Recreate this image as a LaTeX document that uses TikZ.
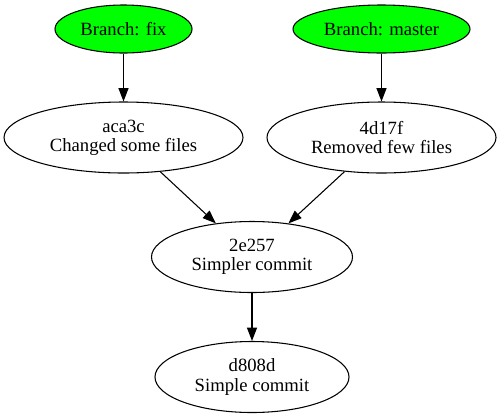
\documentclass[tikz,border=0pt]{standalone}
\usepackage{xcolor}
\usepackage{fontspec}
\setmainfont{Liberation Serif}
\usepackage{tikz}
\definecolor{branchgreen}{RGB}{0, 255, 0}
\usetikzlibrary{shapes.geometric,arrows.meta,positioning}

\begin{document}
\begin{tikzpicture}[
    x=0.75pt, y=-0.75pt,
    commit/.style={
        ellipse,
        draw,
        line width=0.8pt,
        inner sep=0pt,
        minimum height=53.25pt,
        align=center,
        font=\fontsize{14}{14.5}\selectfont
    },
    branch/.style={
        commit,
        fill=branchgreen,
        minimum height=36pt
    },
    arrow/.style={-{Triangle[length=10pt,width=7.5pt]},line width=0.8pt}
]
    \useasboundingbox (0,0) rectangle (500,419);

    % Branches
    \node[branch, minimum width=102.75pt] (branchfix) at (123.5,29) {Branch: fix};
    \node[branch, minimum width=132.75pt] (branchmaster) at (381.5,29) {Branch: master};

    % Commits
    \node[commit, minimum width=179.25pt] (changed) at (123.5,137.5) {
        aca3c\\
        Changed some files
    };
    \node[commit, minimum width=171.75pt] (removed) at (381.5,137.5) {
        4d17f\\
        Removed few files
    };
    \node[commit, minimum width=150.75pt] (simpler) at (252,257) {
        2e257\\
        Simpler commit
    };
    \node[commit, minimum width=145.5pt] (simple) at (252,377) {
        d808d\\
        Simple commit
    };

    % History
    \draw[arrow] (branchfix) -- (changed);
    \draw[arrow] (branchmaster) -- (removed);
    \draw[arrow] (changed) -- (simpler);
    \draw[arrow] (removed) -- (simpler);
    \draw[arrow] (simpler) -- (simple);
\end{tikzpicture}
\end{document}
